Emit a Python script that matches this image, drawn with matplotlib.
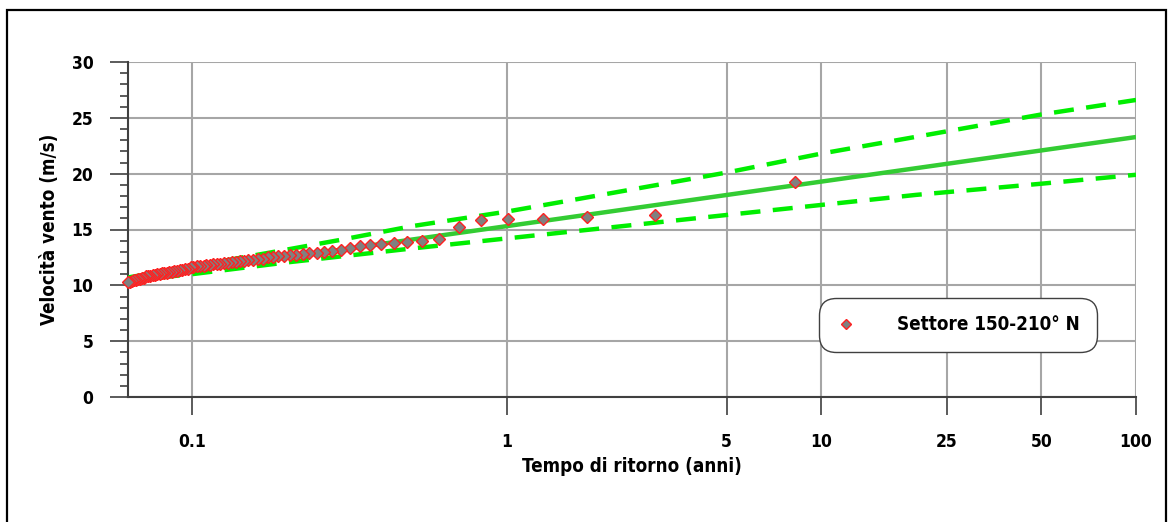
import numpy as np
import matplotlib
matplotlib.use("Agg")
import matplotlib.pyplot as plt
from matplotlib import font_manager
from matplotlib.font_manager import FontProperties
from matplotlib.patches import Rectangle
from matplotlib.ticker import FixedLocator, FixedFormatter, MultipleLocator

# ---------------- data ----------------
# return periods (years) of observed events (plotting positions)
T_obs = [8.26, 2.96, 1.80, 1.30, 1.01, 0.831, 0.703, 0.609, 0.539, 0.483, 0.437, 0.399,
         0.368, 0.341, 0.317, 0.297, 0.279, 0.263, 0.249, 0.236, 0.225, 0.214, 0.205, 0.196,
         0.188, 0.181, 0.174, 0.168, 0.162, 0.156, 0.151, 0.146, 0.142, 0.138, 0.134, 0.130,
         0.126, 0.123, 0.120, 0.117, 0.114, 0.111, 0.109, 0.106, 0.104, 0.101, 0.0992, 0.0971,
         0.0951, 0.0932, 0.0914, 0.0896, 0.0879, 0.0863, 0.0847, 0.0832, 0.0817, 0.0803,
         0.0789, 0.0776, 0.0763, 0.0750, 0.0738, 0.0727, 0.0716, 0.0705, 0.0694, 0.0684,
         0.0674, 0.0664, 0.0655, 0.0646, 0.0637, 0.0628]
# observed wind speeds (m/s)
V_obs = [19.25, 16.3, 16.1, 15.9, 15.9, 15.85, 15.2, 14.15, 13.97, 13.85, 13.8, 13.7,
         13.6, 13.5, 13.3, 13.2, 13.1, 13.0, 12.9, 12.9, 12.8, 12.7, 12.7, 12.6,
         12.6, 12.5, 12.5, 12.4, 12.4, 12.3, 12.3, 12.2, 12.2, 12.1, 12.1, 12.0,
         12.0, 11.9, 11.9, 11.9, 11.8, 11.8, 11.7, 11.7, 11.7, 11.6, 11.6, 11.5,
         11.5, 11.4, 11.4, 11.3, 11.3, 11.2, 11.2, 11.1, 11.1, 11.1,
         11.0, 11.0, 10.9, 10.9, 10.8, 10.8, 10.8, 10.7, 10.7, 10.6,
         10.6, 10.5, 10.5, 10.4, 10.3, 10.3]

# fitted curve and confidence band
T_fit = [0.0625, 0.1, 0.2, 0.3, 0.5, 1, 2, 5, 10, 20, 50, 100]
V_fit = [10.50, 11.31, 12.51, 13.21, 14.10, 15.30, 16.50, 18.09, 19.29, 20.49, 22.08, 23.28]
V_upper = [10.7, 11.7, 13.2, 14.1, 15.3, 16.6, 18.1, 20.1, 21.8, 23.3, 25.3, 26.6]
V_lower = [10.4, 11.0, 12.05, 12.6, 13.3, 14.2, 15.1, 16.3, 17.2, 18.1, 19.1, 19.9]

x_ticks = [0.1, 1, 5, 10, 25, 50, 100]
x_ticklabels = ["0.1", "1", "5", "10", "25", "50", "100"]
legend_label = "Settore 150-210° N"
xlabel = "Tempo di ritorno (anni)"
ylabel = "Velocità vento (m/s)"

# ---------------- fonts ----------------
fpath = None
for key in ["LiberationSansNarrow-Bold", "DejaVuSansCondensed-Bold", "OpenSans_Condensed-Bold",
            "OpenSansCondensed-Bold", "Roboto_Condensed-Bold", "RobotoCondensed-Bold"]:
    for f in font_manager.fontManager.ttflist:
        if key.lower() in f.fname.lower().replace(" ", ""):
            fpath = f.fname
            break
    if fpath:
        break


def fp(size):
    if fpath:
        return FontProperties(fname=fpath, size=size)
    return FontProperties(family="Liberation Sans", weight="bold", size=size, stretch="condensed")


W, H = 1172, 522
fig = plt.figure(figsize=(W / 100, H / 100), dpi=100)
ax = fig.add_axes([128 / W, 1 - 397 / H, (1136 - 128) / W, (397 - 62) / H])

ax.set_xscale("log")
ax.set_xlim(0.0626, 100)
ax.set_ylim(0, 30)

ax.xaxis.set_major_locator(FixedLocator(x_ticks))
ax.xaxis.set_major_formatter(FixedFormatter(x_ticklabels))
ax.xaxis.set_minor_locator(FixedLocator([]))
ax.yaxis.set_major_locator(MultipleLocator(5))
ax.yaxis.set_minor_locator(MultipleLocator(1))
ax.grid(True, which="major", color="#a6a6a6", lw=1.5, zorder=0)
ax.set_axisbelow(True)

for s in ["top", "right"]:
    ax.spines[s].set_visible(False)
for s in ["left", "bottom"]:
    ax.spines[s].set_color("#404040")
    ax.spines[s].set_linewidth(1.5)

ax.tick_params(axis="x", which="major", direction="out", length=13, width=1.2,
               color="#404040", pad=13)
ax.tick_params(axis="y", which="major", direction="out", length=13, width=1.2,
               color="#404040", pad=12)
ax.tick_params(axis="y", which="minor", direction="out", length=6, width=1.2,
               color="#404040")
fig.canvas.draw()
for lab in ax.get_xticklabels() + ax.get_yticklabels():
    lab.set_fontproperties(fp(12.5))

# lines
ax.plot(T_fit, V_fit, color="#33cc33", lw=3.2, zorder=3, solid_capstyle="butt")
ax.plot(T_fit, V_upper, color="#00ee00", lw=3.2, dashes=(4.5, 2.8), zorder=3)
ax.plot(T_fit, V_lower, color="#00ee00", lw=3.2, dashes=(4.5, 2.8), zorder=3)

# observations
ax.plot(T_obs, V_obs, ls="none", marker="D", ms=6.5, mfc="#808080", mec="#ff2020",
        mew=1.0, zorder=4, label=legend_label, clip_on=False)

ax.set_xlabel(xlabel, fontproperties=fp(13.5), labelpad=4)
ax.set_ylabel(ylabel, fontproperties=fp(13.5), labelpad=9)

leg = ax.legend(loc="center", bbox_to_anchor=((958 - 128) / (1136 - 128), (397 - 325) / (397 - 62)),
                prop=fp(13.5), frameon=True, handlelength=1.0, handletextpad=2.2,
                borderpad=0.75, markerscale=0.75, borderaxespad=0)
frame = leg.get_frame()
frame.set_edgecolor("#404040")
frame.set_linewidth(1.0)
frame.set_facecolor("white")
frame.set_alpha(1)
frame.set_boxstyle("round", pad=0.2, rounding_size=0.9)

# outer frame
fig.patches.append(Rectangle((7 / W, -0.05), (1166 - 7) / W, 1.05 - 10 / H,
                             transform=fig.transFigure, fill=False, ec="black", lw=1.6))

fig.savefig("out.png", dpi=100)
